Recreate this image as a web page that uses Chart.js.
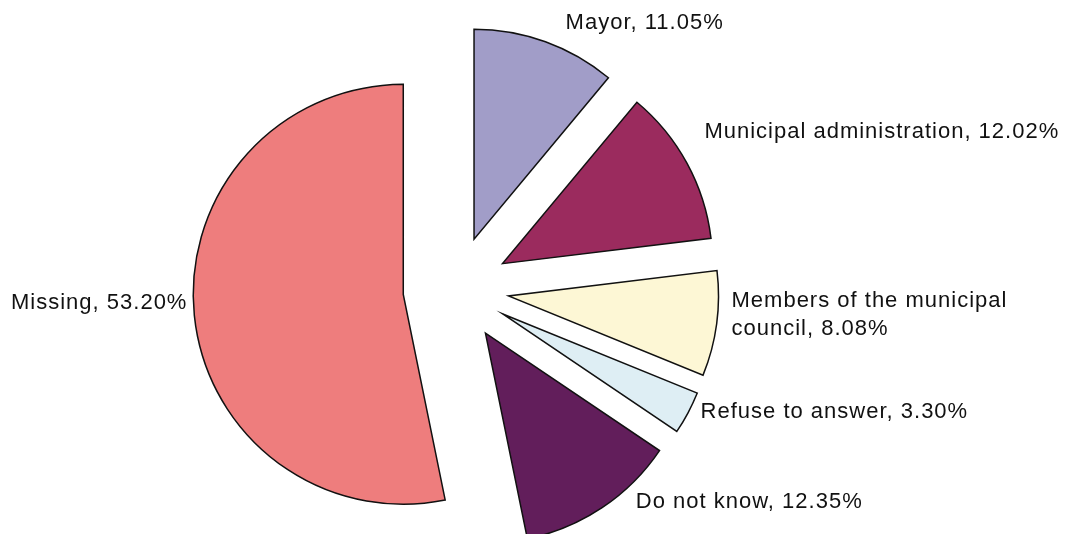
<!DOCTYPE html>
<html>
<head>
<meta charset="utf-8">
<script src="https://cdn.jsdelivr.net/npm/chart.js@4/dist/chart.umd.min.js"></script>
<style>
  body { margin: 0; background: #fff; }
  #wrap { width: 1065px; height: 534px; position: relative; }
</style>
</head>
<body>
<div id="wrap"><canvas id="pie"></canvas></div>
<script>
// who do people turn to -- shares in percent, clockwise from 12 o'clock
var categories = ['Mayor', 'Municipal administration', 'Members of the municipal\ncouncil', 'Refuse to answer', 'Do not know', 'Missing'];
var shares = [11.05, 12.02, 8.08, 3.30, 12.35, 53.20];
var sliceColors = ['#a19dc8', '#9b2b5e', '#fdf7d5', '#deeef4', '#621e5b', '#ee7d7d'];

// how far each slice is pulled out from the middle (px)
var explode = [53, 53, 53, 53, 53, 53];
// small hand tweaks so labels don't sit on top of each other
var labelNudge = [[13, 1], [-1, -21], [-6, -12], [-6, -11], [22, -23], [14, -15]];

var labelText = categories.map(function(name, i) {
  return (name + ', ' + shares[i].toFixed(2) + '%').split('\n');
});

var explodePlugin = {
  id: 'explode',
  afterDatasetsUpdate: function(chart) {
    var meta = chart.getDatasetMeta(0);
    meta.data.forEach(function(arc, i) {
      var mid = (arc.startAngle + arc.endAngle) / 2;
      arc.x += Math.cos(mid) * explode[i];
      arc.y += Math.sin(mid) * explode[i];
    });
  }
};

var labelPlugin = {
  id: 'sliceLabels',
  afterDatasetsDraw: function(chart) {
    var ctx = chart.ctx;
    var meta = chart.getDatasetMeta(0);
    ctx.save();
    ctx.font = '22px "Liberation Sans", Arial, sans-serif';
    ctx.letterSpacing = '1px';
    ctx.fillStyle = '#111';
    ctx.textBaseline = 'middle';
    meta.data.forEach(function(arc, i) {
      var mid = (arc.startAngle + arc.endAngle) / 2;
      var r = arc.outerRadius * 1.1;
      var x = arc.x + Math.cos(mid) * r + labelNudge[i][0];
      var y = arc.y + Math.sin(mid) * r + labelNudge[i][1];
      ctx.textAlign = Math.cos(mid) >= 0 ? 'left' : 'right';
      var lines = labelText[i];
      var lh = 28;
      lines.forEach(function(line, k) {
        ctx.fillText(line, x, y + (k - (lines.length - 1) / 2) * lh);
      });
    });
    ctx.restore();
  }
};

var chart = new Chart(document.getElementById('pie'), {
  type: 'pie',
  data: {
    labels: categories,
    datasets: [{
      data: shares,
      backgroundColor: sliceColors,
      borderColor: '#111',
      borderWidth: 1.5,
      borderJoinStyle: 'miter',
      radius: 210
    }]
  },
  options: {
    responsive: true,
    maintainAspectRatio: false,
    animation: false,
    events: [],
    layout: { padding: { left: 0, right: 153, top: 44, bottom: 0 } },
    plugins: {
      legend: { display: false },
      tooltip: { enabled: false }
    }
  },
  plugins: [explodePlugin, labelPlugin]
});
</script>
</body>
</html>
